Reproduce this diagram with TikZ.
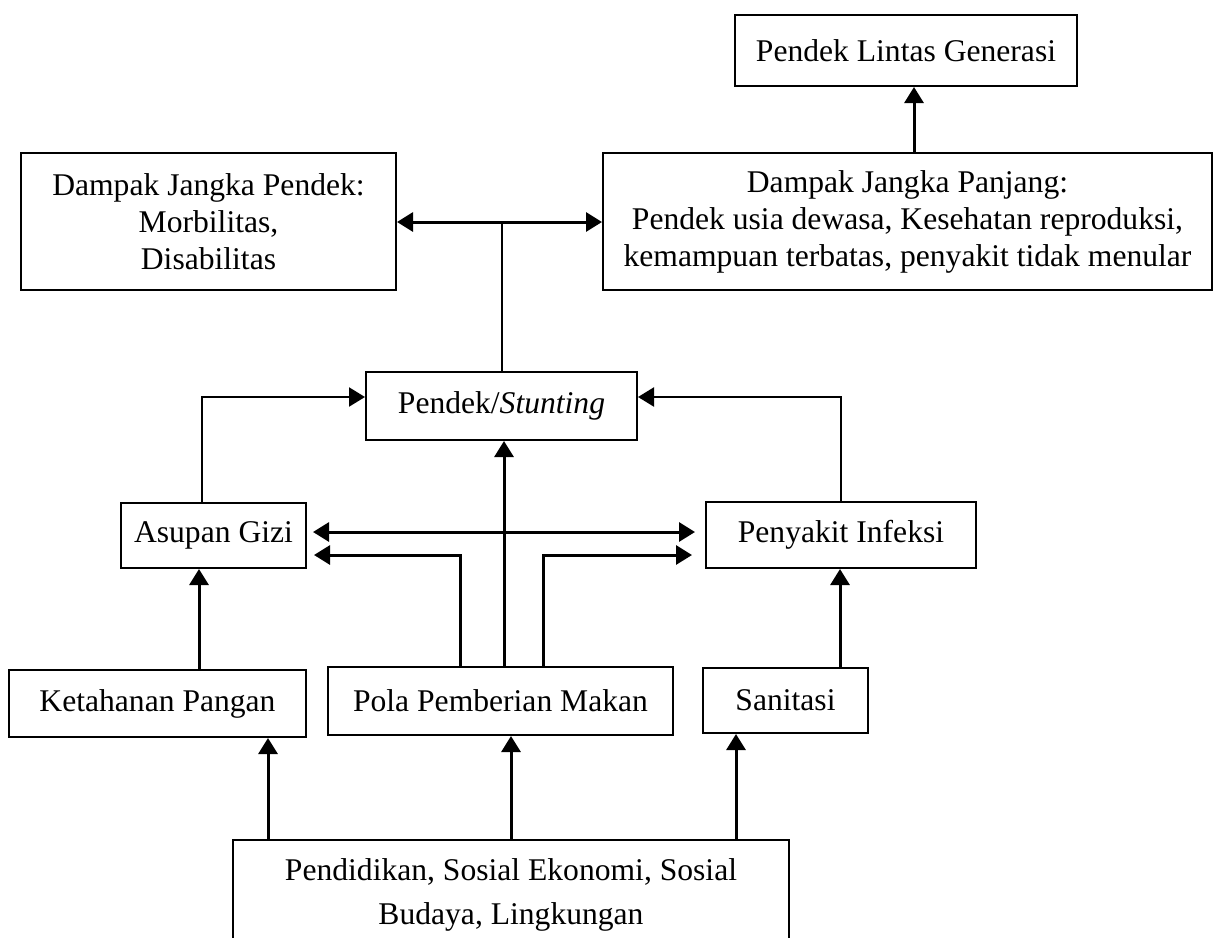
\documentclass[tikz,border=0pt]{standalone}
\usepackage{fontspec}
\setmainfont{Liberation Serif}
\usetikzlibrary{arrows.meta}
\begin{document}
\begin{tikzpicture}[x=0.5pt,y=-0.5pt,
  box/.style={draw, line width=1pt, inner sep=0pt, align=center,
    font=\fontsize{15.8}{18.5}\selectfont},
  tip/.tip={Triangle[length=8pt,width=9.5pt]},
  arr/.style={line width=1.5pt, -tip},
  darr/.style={line width=1.5pt, tip-tip},
  ln/.style={line width=1.1pt}]
\useasboundingbox (0,0) rectangle (1214,937);
\clip (0,0) rectangle (1214,937);

% boxes
\node[box, minimum width=171pt, minimum height=35.5pt] (gen) at (906,50.5) {Pendek Lintas Generasi};
\node[box, minimum width=304.5pt, minimum height=68.5pt] (panjang) at (907.5,221.5)
  {Dampak Jangka Panjang:\\Pendek usia dewasa, Kesehatan reproduksi,\\kemampuan terbatas, penyakit tidak menular};
\node[box, minimum width=187.5pt, minimum height=68.5pt] (pendekD) at (208.5,221.5)
  {Dampak Jangka Pendek:\\Morbilitas,\\Disabilitas};
\node[box, minimum width=135.5pt, minimum height=34pt] (stunt) at (501.5,406) {Pendek/\textit{Stunting}};
\node[box, minimum width=92.5pt, minimum height=32.5pt] (asupan) at (213.5,535.5) {Asupan Gizi};
\node[box, minimum width=135pt, minimum height=33pt] (infeksi) at (841,535) {Penyakit Infeksi};
\node[box, minimum width=148.5pt, minimum height=33.5pt] (ketahanan) at (157.5,703.5) {Ketahanan Pangan};
\node[box, minimum width=172.5pt, minimum height=34pt] (pola) at (500.5,701) {Pola Pemberian Makan};
\node[box, minimum width=82.5pt, minimum height=32.5pt] (sanitasi) at (785.5,700.5) {Sanitasi};
\node[box, minimum width=278pt, minimum height=55pt,
  font=\fontsize{15.8}{22}\selectfont] (dasar) at (511,895)
  {Pendidikan, Sosial Ekonomi, Sosial\\Budaya, Lingkungan};

% helper coordinates
\coordinate (xg) at (914,0);
\coordinate (j) at (502,222);
\coordinate (a1) at (202,397);
\coordinate (a2) at (841,397);
\coordinate (r1) at (0,532);
\coordinate (p1) at (460,555);
\coordinate (p2) at (543,555);
\coordinate (xc) at (504,0);
\coordinate (xk) at (199,0);
\coordinate (xs) at (840,0);
\coordinate (b1) at (268,0);
\coordinate (b2) at (511,0);
\coordinate (b3) at (736,0);

% connectors
\draw[arr] (panjang.north -| xg) -- (gen.south -| xg);
\draw[ln] (stunt.north -| j) -- (j);
\draw[darr] (pendekD.east |- j) -- (panjang.west |- j);
\draw[ln, -tip] (asupan.north -| a1) -- (a1) -- (stunt.west |- a1);
\draw[ln, -tip] (infeksi.north -| a2) -- (a2) -- (stunt.east |- a2);
\draw[darr, shorten <=3pt, shorten >=5pt] (asupan.east |- r1) -- (infeksi.west |- r1);
\draw[arr, shorten >=3.5pt] (pola.north -| p1) -- (p1) -- (asupan.east |- p1);
\draw[arr, shorten >=6.5pt] (pola.north -| p2) -- (p2) -- (infeksi.west |- p2);
\draw[arr] (pola.north -| xc) -- (stunt.south -| xc);
\draw[arr] (ketahanan.north -| xk) -- (asupan.south -| xk);
\draw[arr] (sanitasi.north -| xs) -- (infeksi.south -| xs);
\draw[arr] (dasar.north -| b1) -- (ketahanan.south -| b1);
\draw[arr] (dasar.north -| b2) -- (pola.south -| b2);
\draw[arr] (dasar.north -| b3) -- (sanitasi.south -| b3);
\end{tikzpicture}
\end{document}
